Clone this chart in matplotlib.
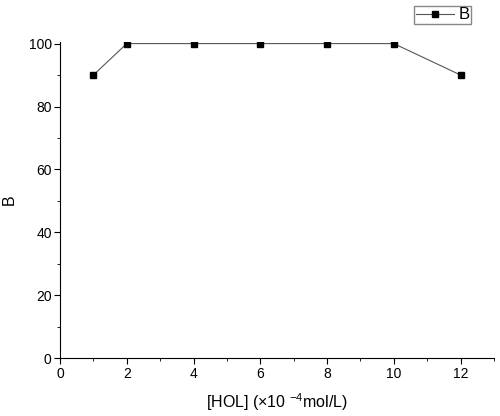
import matplotlib.pyplot as plt
from matplotlib.ticker import MultipleLocator

plt.rcParams['font.family'] = ['Liberation Sans', 'DejaVu Sans']
plt.rcParams['mathtext.fontset'] = 'custom'
plt.rcParams['mathtext.rm'] = 'Liberation Sans'
plt.rcParams['mathtext.it'] = 'Liberation Sans'

# Data
conc = [1, 2, 4, 6, 8, 10, 12]
b_values = [90, 100, 100, 100, 100, 100, 90]

fig = plt.figure(figsize=(5, 4.16), dpi=100)
ax = fig.add_axes([0.12, 0.139, 0.868, 0.760])

ax.plot(conc, b_values, color='#555555', linewidth=0.8, marker='s',
        markersize=5, markerfacecolor='black', markeredgecolor='black',
        label='B')

ax.set_xlim(0, 13)
ax.set_ylim(0, 100.5)
ax.xaxis.set_major_locator(MultipleLocator(2))
ax.xaxis.set_minor_locator(MultipleLocator(1))
ax.yaxis.set_major_locator(MultipleLocator(20))
ax.yaxis.set_minor_locator(MultipleLocator(10))

ax.spines['top'].set_visible(False)
ax.spines['right'].set_visible(False)
ax.tick_params(axis='both', which='major', direction='out', length=4,
               labelsize=10, pad=2)
ax.tick_params(axis='both', which='minor', direction='out', length=2.5)

ax.set_xlabel(r'[HOL] ($\times$10 $^{-4}$mol/L)', fontsize=11.5, labelpad=8)
ax.set_ylabel('B', fontsize=11.5)
ax.yaxis.set_label_coords(-0.1, 0.5)

fig.legend(loc='upper right', bbox_to_anchor=(0.942, 0.986), fancybox=False,
           edgecolor='#888888', fontsize=12, handlelength=2.3,
           borderpad=0.1, handletextpad=0.25, borderaxespad=0, framealpha=1)

fig.savefig('out.png', dpi=100)
